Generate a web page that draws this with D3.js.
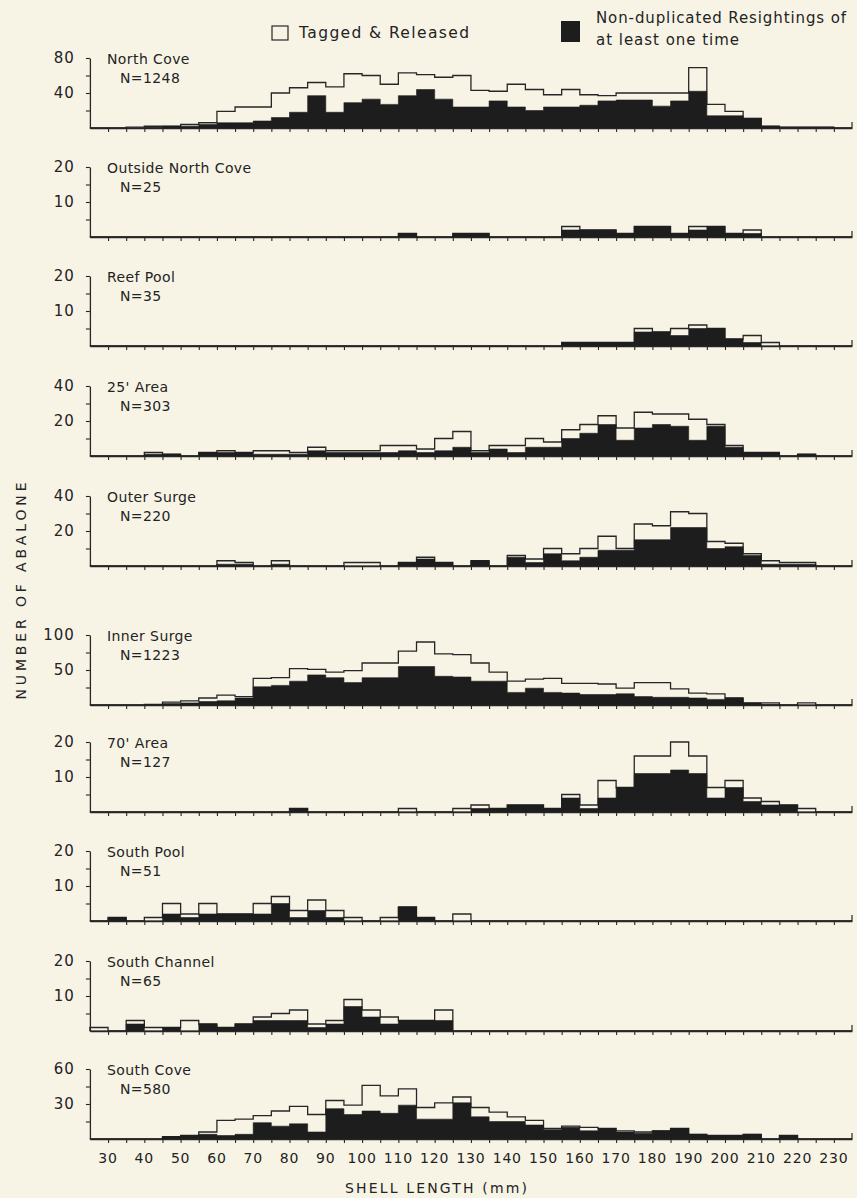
<!DOCTYPE html>
<html><head><meta charset="utf-8">
<script src="https://cdn.jsdelivr.net/npm/d3@7"></script>
<style>
html,body{margin:0;padding:0;background:#f7f4e6;}
svg{display:block;}
text{font-family:"DejaVu Sans",sans-serif;fill:#232323;}
</style></head><body>
<svg id="chart" width="857" height="1198"></svg>
<script>
// ---------- DATA ----------
// 5 mm shell-length bins: edges 25 ... 235 (42 bins)
const binEdges = [25,30,35,40,45,50,55,60,65,70,75,80,85,90,95,100,105,110,115,120,125,130,135,140,145,150,155,160,165,170,175,180,185,190,195,200,205,210,215,220,225,230,235];
const xTickLabels = [30,40,50,60,70,80,90,100,110,120,130,140,150,160,170,180,190,200,210,220,230];

const panelNames = ["North Cove","Outside North Cove","Reef Pool","25' Area","Outer Surge","Inner Surge","70' Area","South Pool","South Channel","South Cove"];
const panelN = ["N=1248","N=25","N=35","N=303","N=220","N=1223","N=127","N=51","N=65","N=580"];
const yTopValues = [80,20,20,40,40,100,20,20,20,60];
const yTickLabels = [[40,80],[10,20],[10,20],[20,40],[20,40],[50,100],[10,20],[10,20],[10,20],[30,60]];

// Tagged & Released (white) and Non-duplicated Resightings (black), per bin
const northCoveTagged    = [0,0,1,2,2,4,6,19,24,24,40,46,52,47,62,60,50,63,61,58,60,43,42,50,44,38,44,38,37,40,40,40,40,69,27,19,11,2,1,1,1,0];
const northCoveResighted = [0,0,0,1,2,2,4,6,6,8,12,18,37,18,29,33,27,37,44,33,24,24,31,24,20,24,24,26,31,32,32,25,31,42,14,14,11,2,1,1,1,0];

const outsideNorthCoveTagged    = [0,0,0,0,0,0,0,0,0,0,0,0,0,0,0,0,0,1,0,0,1,1,0,0,0,0,3,2,2,1,3,3,1,3,3,1,2,0,0,0,0,0];
const outsideNorthCoveResighted = [0,0,0,0,0,0,0,0,0,0,0,0,0,0,0,0,0,1,0,0,1,1,0,0,0,0,2,2,2,1,3,3,1,2,3,1,1,0,0,0,0,0];

const reefPoolTagged    = [0,0,0,0,0,0,0,0,0,0,0,0,0,0,0,0,0,0,0,0,0,0,0,0,0,0,1,1,1,1,5,4,5,6,5,2,3,1,0,0,0,0];
const reefPoolResighted = [0,0,0,0,0,0,0,0,0,0,0,0,0,0,0,0,0,0,0,0,0,0,0,0,0,0,1,1,1,1,4,4,3,5,5,2,1,0,0,0,0,0];

const area25Tagged    = [0,0,0,2,1,0,2,3,2,3,3,2,5,3,3,3,6,6,4,10,14,3,6,6,10,8,15,18,23,16,25,24,24,21,18,6,2,2,0,1,0,0];
const area25Resighted = [0,0,0,1,1,0,2,2,2,1,1,1,3,2,2,2,2,3,2,3,5,2,4,2,5,5,10,13,18,9,16,18,17,9,17,5,2,2,0,1,0,0];

const outerSurgeTagged    = [0,0,0,0,0,0,0,3,2,0,3,0,0,0,2,2,0,2,5,2,0,3,0,6,4,10,7,10,17,10,24,23,31,30,14,13,7,3,2,2,0,0];
const outerSurgeResighted = [0,0,0,0,0,0,0,1,1,0,1,0,0,0,0,0,0,2,4,2,0,3,0,5,2,7,3,5,9,9,15,15,22,22,10,11,6,1,1,1,0,0];

const innerSurgeTagged    = [0,0,0,1,4,6,10,14,12,38,39,52,51,47,49,60,60,77,90,73,72,60,47,34,37,38,31,31,30,24,32,32,23,17,16,10,3,3,0,3,0,0];
const innerSurgeResighted = [0,0,0,0,2,3,5,6,10,26,28,34,43,39,32,39,39,55,55,41,40,34,34,18,24,18,17,15,15,16,12,11,11,10,8,10,3,1,0,0,0,0];

const area70Tagged    = [0,0,0,0,0,0,0,0,0,0,0,1,0,0,0,0,0,1,0,0,1,2,1,2,2,1,5,2,9,7,16,16,20,16,7,9,4,3,2,1,0,0];
const area70Resighted = [0,0,0,0,0,0,0,0,0,0,0,1,0,0,0,0,0,0,0,0,0,1,1,2,2,1,4,1,4,7,11,11,12,11,4,7,3,2,2,0,0,0];

const southPoolTagged    = [0,1,0,1,5,2,5,2,2,5,7,3,6,3,1,0,1,4,1,0,2,0,0,0,0,0,0,0,0,0,0,0,0,0,0,0,0,0,0,0,0,0];
const southPoolResighted = [0,1,0,0,2,1,2,2,2,2,5,1,3,1,0,0,0,4,1,0,0,0,0,0,0,0,0,0,0,0,0,0,0,0,0,0,0,0,0,0,0,0];

const southChannelTagged    = [1,0,3,1,1,3,2,1,2,4,5,6,2,3,9,6,4,3,3,6,0,0,0,0,0,0,0,0,0,0,0,0,0,0,0,0,0,0,0,0,0,0];
const southChannelResighted = [0,0,2,0,1,0,2,1,2,3,3,3,1,2,7,4,2,3,3,3,0,0,0,0,0,0,0,0,0,0,0,0,0,0,0,0,0,0,0,0,0,0];

const southCoveTagged    = [0,0,0,0,2,3,6,16,17,20,24,28,21,33,29,46,37,43,27,31,36,27,23,19,16,9,11,10,9,7,6,7,9,4,3,3,4,0,3,0,0,0];
const southCoveResighted = [0,0,0,0,2,3,4,3,4,14,11,13,6,26,21,24,22,29,17,17,31,19,15,15,12,8,10,7,9,6,5,7,9,4,3,3,4,0,3,0,0,0];

const taggedSeries = [northCoveTagged,outsideNorthCoveTagged,reefPoolTagged,area25Tagged,outerSurgeTagged,innerSurgeTagged,area70Tagged,southPoolTagged,southChannelTagged,southCoveTagged];
const resightedSeries = [northCoveResighted,outsideNorthCoveResighted,reefPoolResighted,area25Resighted,outerSurgeResighted,innerSurgeResighted,area70Resighted,southPoolResighted,southChannelResighted,southCoveResighted];

// ---------- LAYOUT ----------
const layout = {
  left: 89.9, right: 852,
  baselines: [128,237,346,456,566,705,812,921,1031,1139],
  axisHeight: 70
};
const ink = "#262626";
const bg = "#f7f4e6";

const svg = d3.select("#chart");
svg.append("rect").attr("width",857).attr("height",1198).attr("fill",bg);

const x = d3.scaleLinear().domain([binEdges[0], binEdges[binEdges.length-1]]).range([layout.left, layout.right]);

function stepPoints(vals){
  const pts = [[binEdges[0],0]];
  vals.forEach((v,i)=>{ pts.push([binEdges[i],v]); pts.push([binEdges[i+1],v]); });
  pts.push([binEdges[binEdges.length-1],0]);
  return pts;
}

panelNames.forEach((name,p)=>{
  const base = layout.baselines[p];
  const top = yTopValues[p];
  const y = d3.scaleLinear().domain([0, top]).range([base, base - layout.axisHeight]);
  const g = svg.append("g");

  const line = d3.line().x(d=>x(d[0])).y(d=>y(d[1]));
  const area = d3.area().x(d=>x(d[0])).y0(y(0)).y1(d=>y(d[1]));

  g.append("path").attr("d", area(stepPoints(taggedSeries[p]))).attr("fill", bg);
  g.append("path").attr("d", line(stepPoints(taggedSeries[p])))
    .attr("fill","none").attr("stroke",ink).attr("stroke-width",1.3).attr("stroke-linejoin","miter");
  g.append("path").attr("d", area(stepPoints(resightedSeries[p])))
    .attr("fill","#1d1d1d").attr("stroke","#1d1d1d").attr("stroke-width",0.6);

  // x axis
  const xa = d3.axisBottom(x).tickValues(binEdges.slice(1,-1)).tickSize(4).tickSizeOuter(0).tickFormat("");
  const xg = g.append("g").attr("transform",`translate(0,${base})`).call(xa);
  xg.select(".domain").attr("stroke",ink).attr("stroke-width",1.3);
  xg.selectAll(".tick line").attr("stroke",ink).attr("stroke-width",1.1);
  g.append("line").attr("x1",x(binEdges[binEdges.length-1])).attr("x2",x(binEdges[binEdges.length-1]))
    .attr("y1",base).attr("y2",base-6).attr("stroke",ink).attr("stroke-width",1.2);

  // y axis
  const q = top/4;
  const ya = d3.axisLeft(y).tickValues([q,2*q,3*q,4*q]).tickSize(4).tickPadding(11).tickSizeOuter(0)
    .tickFormat(d => yTickLabels[p].includes(d) ? d : "");
  const yg = g.append("g").attr("transform",`translate(${layout.left},0)`).call(ya);
  yg.select(".domain").attr("stroke",ink).attr("stroke-width",1.3);
  yg.selectAll(".tick line").attr("stroke",ink).attr("stroke-width",1.1);
  yg.selectAll(".tick text").attr("font-family","DejaVu Sans").attr("font-size",15)
    .attr("letter-spacing",1).attr("fill","#232323");

  // panel labels
  g.append("text").attr("x",107).attr("y",y(top)+1).attr("dy","0.35em")
    .attr("font-size",14).attr("letter-spacing",0.4).text(name);
  g.append("text").attr("x",120).attr("y",y(top)+20).attr("dy","0.35em")
    .attr("font-size",14).attr("letter-spacing",0.4).text(panelN[p]);

  if (p === panelNames.length-1){
    g.selectAll(".xlab").data(xTickLabels).enter().append("text")
      .attr("x",d=>x(d)).attr("y",base+19).attr("dy","0.35em")
      .attr("text-anchor","middle").attr("font-size",14).attr("letter-spacing",0.8)
      .text(d=>d);
  }
});

// axis titles
svg.append("text").attr("x",436).attr("y",1188).attr("dy","0.35em").attr("text-anchor","middle")
  .attr("font-size",14).attr("textLength",182).attr("lengthAdjust","spacing").text("SHELL LENGTH (mm)");
svg.append("text").attr("transform","translate(21,591) rotate(-90)").attr("dy","0.35em").attr("text-anchor","middle")
  .attr("font-size",14).attr("textLength",217).attr("lengthAdjust","spacing").text("NUMBER OF ABALONE");

// legend
svg.append("rect").attr("x",272).attr("y",26).attr("width",16).attr("height",14)
  .attr("fill",bg).attr("stroke",ink).attr("stroke-width",1.2);
svg.append("text").attr("x",299).attr("y",33).attr("dy","0.35em").attr("font-size",15.5)
  .attr("textLength",170).attr("lengthAdjust","spacing").text("Tagged & Released");
svg.append("rect").attr("x",561).attr("y",21).attr("width",19).attr("height",21).attr("fill","#1d1d1d");
svg.append("text").attr("x",596).attr("y",18).attr("dy","0.35em").attr("font-size",15)
  .attr("textLength",250).attr("lengthAdjust","spacing").text("Non-duplicated Resightings of");
svg.append("text").attr("x",596).attr("y",40).attr("dy","0.35em").attr("font-size",15)
  .attr("textLength",143).attr("lengthAdjust","spacing").text("at least one time");
</script>
</body></html>
